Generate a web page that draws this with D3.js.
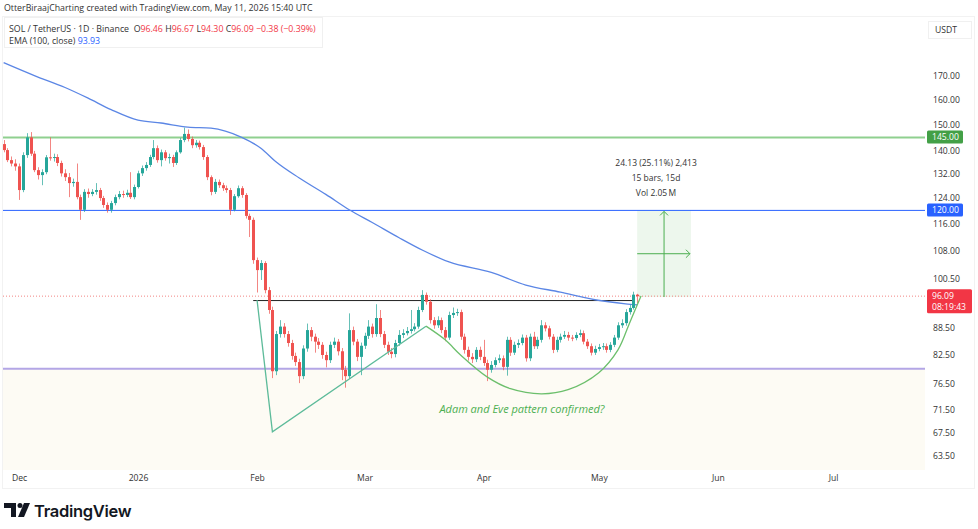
<!DOCTYPE html>
<html>
<head>
<meta charset="utf-8">
<script src="https://cdn.jsdelivr.net/npm/d3@7"></script>
<style>
  body { margin: 0; background: #fff; }
  svg { font-family: "Open Sans", sans-serif; }
</style>
</head>
<body>
<svg id="chart" width="978" height="529"></svg>
<script>
// daily SOL/USDT candles, first one on Nov 27 2025, last one May 11 2026
var firstDay = Date.UTC(2025, 10, 27);
var firstOpen = 142.5;
var closes = [
  140.3,136.7,135.5,134.5,126.5,138.5,145,139,133.2,131.5,
  132.5,137.7,137.5,137.8,135.7,132.1,130.8,128.8,129.2,124.2,
  120.2,125.9,125.2,125.9,126.5,123.9,121.7,120.2,122.3,124.2,
  125.2,124.9,125.6,124.2,127.5,132.1,133.9,135,137.8,141,
  136.7,139.5,137.4,137.8,135.7,139.5,144,146.3,144.4,142.1,
  143,141.4,137.8,130.8,125.9,129.2,128.1,127.1,126.5,120.2,
  124.5,127.1,124.9,118.3,117.1,105.5,102.8,104.7,97.6,92.7,
  79.1,87.1,88.8,87.1,85.1,82.3,81,78.1,83.9,88,
  86.5,85.4,84.7,82.5,81.4,84.7,85.4,83.3,79.4,78.1,
  88,85.4,82.1,84.5,86.7,88.8,87.1,90.8,87.1,84.7,
  83.2,82.7,85.1,86.9,87.3,87.8,88.2,88.8,92.7,96.4,
  94.7,90.3,89.1,90.3,88,86.3,91.5,92,92.2,86.5,
  83.6,82.1,81.6,83.6,82.1,80.8,79.4,80.4,81.4,81.8,
  80,85.8,83,84.7,85.1,86.3,81.8,86.5,84.4,85.8,
  89.1,88.4,86.5,83.6,85.8,86.5,86.9,86.3,86.2,86.9,
  87.3,85.4,84.4,83,83.8,84.2,84.4,83.6,84.7,86.3,
  89.1,89.6,92.2,93.2,96.46,96.09
];
var highs = [
  144,141,138,137,135.5,139.5,146.6,147,140,134.2,
  133.5,138.5,145,139,138.8,136.5,133.5,132.2,130.3,135.5,
  125,126.8,127,126.8,128.8,127.2,124.6,122.5,123,125,
  126.2,126.3,126.6,132.5,128.3,133,134.8,136,138.6,144,
  142,140.5,140.3,139,138.6,140.2,144.8,148.7,148,145.3,
  144,143.8,142.2,138.5,131.4,130.2,130,128.9,128,127.2,
  125.2,128,127.8,125.5,119,117.8,106.2,105.5,105.2,98.4,
  93.5,87.8,90.3,89.6,87.8,85.8,83,81.7,84.6,89.5,
  88.7,87.2,86.2,85.3,83.2,85.4,86.3,86,84,80.2,
  91.9,88.8,86,85.2,87.4,90.3,89.5,94.1,92.7,87.8,
  85.4,84,85.8,88,88.2,88.7,92.7,89.6,93.5,97.6,
  97,95.3,91,91.2,90.9,88.7,92.3,93.3,93,92.8,
  87.2,84.3,82.9,84.2,84.3,85.8,81.5,81.2,82,82.6,
  82.4,86.5,86.4,85.4,85.9,87,86.9,87.2,87.6,86.5,
  90.3,89.8,89,87.1,86.5,87.2,87.8,87.6,86.9,87.5,
  88.1,87.9,86,85,84.5,84.9,85.1,85,85.3,86.9,
  89.8,90.5,92.9,94,97.2,96.67
];
var lows = [
  139.5,136,134.5,133,123.3,125.8,137.5,138.2,132.5,130,
  128.1,131.8,136.5,136.2,134.6,131,129.5,124.2,127.6,123.5,
  117.1,119.5,124,124.5,125,123,120.8,119.3,119.3,121.6,
  123.5,124,124.2,123.6,123.5,127,131.2,133,134.3,137,
  135.8,134.5,136.5,135.5,134.3,135,139,143.2,143.5,141,
  141.2,140.5,136.8,129.8,124.8,125.2,127.2,126.2,125.6,118.6,
  119.7,124,124,117.5,112,104.5,97,100.2,96.8,91.8,
  77.7,78.3,86.3,86.3,84.3,81.5,80.2,76.7,77.5,83.2,
  85.5,83,83.8,81.7,79.9,80.8,84,82.4,77.3,75.8,
  77.6,84.6,81.2,78.3,83.8,86,86.3,86.5,86.4,84,
  82.5,81.8,82,84.5,86.2,86.8,87.2,87.7,88.3,92.2,
  94,89.5,88.3,88.5,87.3,85.5,85.8,90.8,91.3,85.8,
  82.8,81.3,80.8,81,81.4,80.2,77.1,78.8,79.9,80.8,
  79.3,78.2,82.3,82.5,84,84.6,81.1,81.2,83.8,83.8,
  85.2,87.7,85.9,82.9,83.1,85.2,86,85.6,85.5,85.7,
  86.4,84.8,83.8,82.4,82.5,83.3,83.6,83,83.1,84.2,
  85.8,88.5,89,91.6,92.8,94.3
];

// EMA(100)
var emaDates = ['2025-11-27','2025-12-05','2025-12-13','2025-12-19','2025-12-25','2026-01-01',
  '2026-01-07','2026-01-14','2026-01-20','2026-01-28','2026-02-02','2026-02-06','2026-02-12',
  '2026-02-19','2026-02-25','2026-03-03','2026-03-10','2026-03-16','2026-03-23','2026-04-03',
  '2026-04-12','2026-04-21','2026-04-30','2026-05-08','2026-05-11'];
var emaValues = [176,170.2,165,160.5,155.8,151.6,150.5,148.9,148.5,145,141,136,130.5,
  125,120.2,116.3,111.8,108.3,105,102.2,98.9,97.1,95.2,94.2,93.93];

var priceTicks = [170,160,150,140,132,124,116,108,100.5,88.5,82.5,76.5,71.5,67.5,63.5];
var timeTicks = ['2025-12-01','2026-01-01','2026-02-01','2026-03-01','2026-04-01','2026-05-01','2026-06-01','2026-07-01'];
var timeLabels = ['Dec','2026','Feb','Mar','Apr','May','Jun','Jul'];

var resistance = 145, midLevel = 120, support = 79.6, neckline = 95;
var necklineFrom = '2026-01-31', necklineTo = '2026-05-10';
var lastPrice = 96.09, countdown = '08:19:43';
var adamPoints = [['2026-02-01',95.1],['2026-02-05',67.6],['2026-03-17',88.9]];
var evePoints = [['2026-03-17',88.9],['2026-03-22',85.8],['2026-03-26',82.5],['2026-04-02',77.9],
  ['2026-04-08',75.6],['2026-04-16',74.6],['2026-04-23',75.4],['2026-05-01',78.8],
  ['2026-05-06',83.6],['2026-05-09',89.6],['2026-05-12',96.1]];
var patternNote = ['2026-04-11', 71.6, 'Adam and Eve pattern confirmed?'];
var measure = {from: '2026-05-11', to: '2026-05-25', low: 95.87, high: 120,
  lines: ['24.13 (25.11%) 2,413', '15 bars, 15d', 'Vol 2.05\u2009M']};

var upColor = '#26a69a', downColor = '#ef5350';
var plotL = 3, plotR = 925, plotT = 17, plotB = 470;

var svg = d3.select('#chart');
var day = (s) => new Date(s + 'T00:00:00Z');

var x = d3.scaleUtc().domain([day('2025-12-01'), day('2026-07-01')]).range([19, 833]);
var y = d3.scaleLog().domain([63.5, 170]).range([456, 76]);

var candles = closes.map((c, i) => ({
  date: d3.utcDay.offset(new Date(firstDay), i),
  open: i === 0 ? firstOpen : closes[i - 1],
  close: c, high: highs[i], low: lows[i]
}));

svg.append('defs').append('clipPath').attr('id', 'plot')
  .append('rect').attr('x', plotL).attr('y', plotT).attr('width', plotR - plotL).attr('height', plotB - plotT);

// faint panel frames
svg.append('rect').attr('x', 2.5).attr('y', 16.5).attr('width', 972).attr('height', 472)
  .attr('fill', 'none').attr('stroke', '#f2f2f2');

var g = svg.append('g').attr('clip-path', 'url(#plot)');

// shaded zone under the support line
g.append('rect').attr('x', plotL).attr('width', plotR - plotL)
  .attr('y', y(support)).attr('height', plotB - y(support)).attr('fill', '#fdfbf4');

// measurement box
var mx0 = x(day(measure.from)), mx1 = x(day(measure.to));
var my0 = y(measure.high), my1 = y(measure.low);
g.append('rect').attr('x', mx0).attr('y', my0).attr('width', mx1 - mx0).attr('height', my1 - my0)
  .attr('fill', '#4caf50').attr('opacity', 0.1);

// horizontal levels
g.append('line').attr('x1', plotL).attr('x2', plotR).attr('y1', y(resistance)).attr('y2', y(resistance))
  .attr('stroke', '#8fd08f').attr('stroke-width', 2);
g.append('line').attr('x1', plotL).attr('x2', plotR).attr('y1', y(midLevel)).attr('y2', y(midLevel))
  .attr('stroke', '#2962ff').attr('stroke-width', 1);
g.append('line').attr('x1', plotL).attr('x2', plotR).attr('y1', y(support)).attr('y2', y(support))
  .attr('stroke', '#b3a6e6').attr('stroke-width', 2);
g.append('line').attr('x1', plotL).attr('x2', plotR).attr('y1', y(lastPrice)).attr('y2', y(lastPrice))
  .attr('stroke', '#ef5350').attr('stroke-width', 1).attr('stroke-dasharray', '1,2').attr('opacity', 0.7);
g.append('line').attr('x1', x(day(necklineFrom))).attr('x2', x(day(necklineTo)))
  .attr('y1', y(neckline)).attr('y2', y(neckline)).attr('stroke', '#222').attr('stroke-width', 1);

// EMA
var emaLine = d3.line().curve(d3.curveMonotoneX).x((d, i) => x(day(emaDates[i]))).y((d) => y(d));
g.append('path').datum(emaValues).attr('d', emaLine)
  .attr('fill', 'none').attr('stroke', '#5b86e5').attr('stroke-width', 1.3);

// candles
var cg = g.selectAll('g.candle').data(candles).enter().append('g').attr('class', 'candle')
  .attr('fill', (d) => d.close >= d.open ? upColor : downColor)
  .attr('stroke', (d) => d.close >= d.open ? upColor : downColor);
cg.append('line').attr('x1', (d) => Math.round(x(d.date)) + 0.5).attr('x2', (d) => Math.round(x(d.date)) + 0.5)
  .attr('y1', (d) => y(d.high)).attr('y2', (d) => y(d.low)).attr('stroke-width', 1).attr('opacity', 0.7);
cg.append('rect').attr('x', (d) => Math.round(x(d.date)) - 1).attr('width', 3).attr('stroke', 'none')
  .attr('y', (d) => y(Math.max(d.open, d.close)))
  .attr('height', (d) => Math.max(1, Math.abs(y(d.open) - y(d.close))));

// Adam and Eve drawings
var pline = d3.line().x((d) => x(day(d[0]))).y((d) => y(d[1]));
g.append('path').datum(adamPoints).attr('d', pline).attr('fill', 'none')
  .attr('stroke', '#5dbb9a').attr('stroke-width', 1.3);
g.append('path').datum(evePoints).attr('d', pline.curve(d3.curveCatmullRom)).attr('fill', 'none')
  .attr('stroke', '#6cbf6c').attr('stroke-width', 1.3);
g.append('text').attr('x', x(day(patternNote[0]))).attr('y', y(patternNote[1]))
  .attr('text-anchor', 'middle').attr('dominant-baseline', 'middle')
  .attr('font-size', 11).attr('font-style', 'italic').attr('fill', '#4caf50').text(patternNote[2]);

// measurement arrows
var arrowColor = '#4caf50';
var mxm = x(day('2026-05-18')), mym = y(Math.sqrt(measure.low * measure.high));
g.append('line').attr('x1', mxm).attr('x2', mxm).attr('y1', my1).attr('y2', my0 + 1)
  .attr('stroke', arrowColor).attr('stroke-width', 1);
g.append('path').attr('d', 'M' + (mxm - 4) + ',' + (my0 + 5) + 'L' + mxm + ',' + (my0 + 1) + 'L' + (mxm + 4) + ',' + (my0 + 5))
  .attr('fill', 'none').attr('stroke', arrowColor);
g.append('line').attr('x1', mx0).attr('x2', mx1 - 1).attr('y1', mym).attr('y2', mym)
  .attr('stroke', arrowColor).attr('stroke-width', 1);
g.append('path').attr('d', 'M' + (mx1 - 5) + ',' + (mym - 4) + 'L' + (mx1 - 1) + ',' + mym + 'L' + (mx1 - 5) + ',' + (mym + 4))
  .attr('fill', 'none').attr('stroke', arrowColor);
svg.append('g').selectAll('text').data(measure.lines).enter().append('text')
  .attr('x', (mx0 + mx1) / 2 - 8).attr('y', (d, i) => my0 - 44 + i * 15)
  .attr('text-anchor', 'middle').attr('font-size', 8.5).attr('fill', '#333').text((d) => d);

// price axis
var yAxis = svg.append('g').attr('transform', 'translate(928,0)')
  .call(d3.axisRight(y).tickValues(priceTicks).tickFormat(d3.format('.2f')).tickSize(0).tickPadding(5));
yAxis.select('.domain').remove();
yAxis.selectAll('text').attr('font-size', 8.6).attr('fill', '#333').attr('font-family', '"Open Sans", sans-serif');

var tagBox = (price, color, lines) => {
  var yy = y(price), h = lines.length * 11 + 2;
  svg.append('rect').attr('x', 927).attr('y', yy - 7).attr('width', lines.length > 1 ? 45 : 36).attr('height', h)
    .attr('rx', 1.5).attr('fill', color);
  lines.forEach((t, i) => {
    svg.append('text').attr('x', 932).attr('y', yy + 3 + i * 11).attr('font-size', 8.6)
      .attr('fill', '#fff').text(t);
  });
};
tagBox(resistance, '#43a047', [d3.format('.2f')(resistance)]);
tagBox(midLevel, '#2962ff', [d3.format('.2f')(midLevel)]);
tagBox(lastPrice, '#f23645', [d3.format('.2f')(lastPrice), countdown]);

svg.append('rect').attr('x', 928.5).attr('y', 21.5).attr('width', 43).attr('height', 17)
  .attr('fill', 'none').attr('stroke', '#f0f0f0');
svg.append('text').attr('x', 935).attr('y', 33).attr('font-size', 8.6).attr('fill', '#333').text('USDT');

// time axis
var xAxis = svg.append('g').attr('transform', 'translate(0,472)')
  .call(d3.axisBottom(x).tickValues(timeTicks.map(day)).tickFormat((d, i) => timeLabels[i]).tickSize(0).tickPadding(3));
xAxis.select('.domain').remove();
xAxis.selectAll('text').attr('font-size', 8.6).attr('fill', '#333').attr('font-family', '"Open Sans", sans-serif');

// header + legend
svg.append('text').attr('x', 4).attr('y', 11).attr('font-size', 8.8).attr('fill', '#333')
  .text('OtterBiraajCharting created with TradingView.com, May 11, 2026 15:40 UTC');
svg.append('rect').attr('x', 4.5).attr('y', 17.5).attr('width', 318).attr('height', 30)
  .attr('fill', '#fff').attr('stroke', '#f0f0f0');
var red = '#f23645', dark = '#333';
var leg = svg.append('text').attr('x', 9).attr('y', 32).attr('font-size', 8.8).attr('fill', dark);
[['SOL / TetherUS \u00b7 1D \u00b7 Binance  ', dark], ['O', dark], ['96.46 ', red], ['H', dark], ['96.67 ', red],
 ['L', dark], ['94.30 ', red], ['C', dark], ['96.09 ', red], ['\u22120.38 (\u22120.39%)', red]]
  .forEach((p) => leg.append('tspan').attr('fill', p[1]).attr('xml:space', 'preserve').text(p[0]));
var leg2 = svg.append('text').attr('x', 9).attr('y', 44).attr('font-size', 8.8).attr('fill', dark);
leg2.append('tspan').text('EMA (100, close) ');
leg2.append('tspan').attr('fill', '#2962ff').text('93.93');

// TradingView logo
var logo = svg.append('g').attr('fill', '#131722');
logo.append('path').attr('d', 'M4,503h12v14h-5v-9h-7z');
logo.append('circle').attr('cx', 20).attr('cy', 505.5).attr('r', 2.5);
logo.append('path').attr('d', 'M24,503h6l-6,14h-6z');
svg.append('text').attr('x', 34).attr('y', 517).attr('font-size', 16.5).attr('font-weight', 600)
  .attr('font-family', 'Inter, sans-serif').attr('fill', '#131722').attr('letter-spacing', -0.3).text('TradingView');
</script>
</body>
</html>
